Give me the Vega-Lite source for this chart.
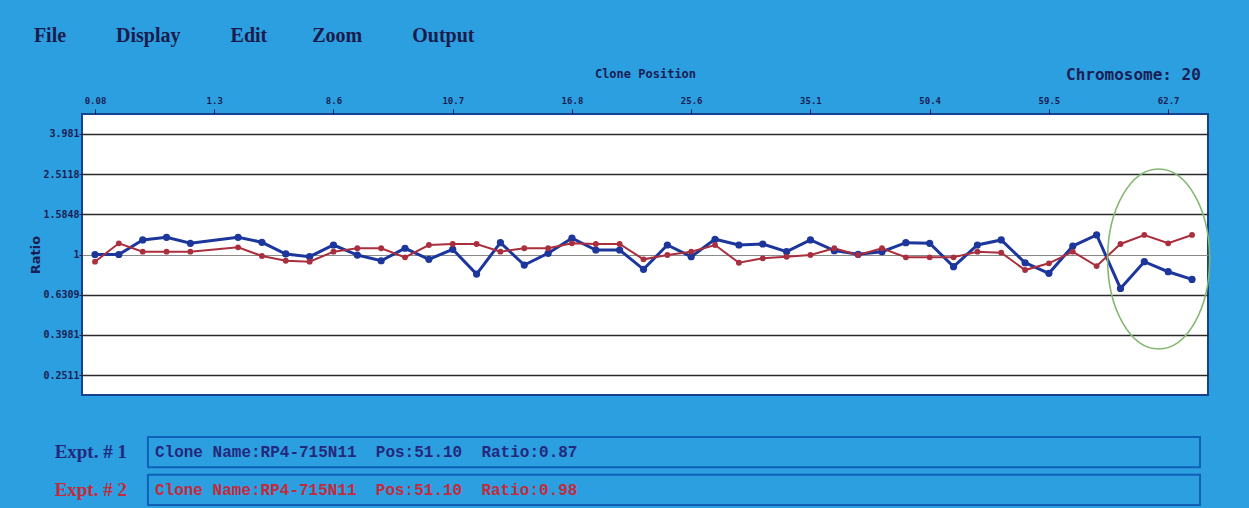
{
  "$schema": "https://vega.github.io/schema/vega-lite/v6.json",
  "background": "#2c9fe0",
  "padding": {"left": 28, "top": 26, "right": 41, "bottom": 3},
  "title": {
    "text": "File\u00a0\u00a0\u00a0\u00a0\u00a0\u00a0\u00a0\u00a0\u00a0\u00a0Display\u00a0\u00a0\u00a0\u00a0\u00a0\u00a0\u00a0\u00a0\u00a0\u00a0Edit\u00a0\u00a0\u00a0\u00a0\u00a0\u00a0\u00a0\u00a0\u00a0Zoom\u00a0\u00a0\u00a0\u00a0\u00a0\u00a0\u00a0\u00a0\u00a0\u00a0Output",
    "anchor": "start",
    "font": "Liberation Serif",
    "fontSize": 20,
    "fontWeight": "bold",
    "color": "#1b1b4d",
    "offset": 20,
    "dx": 5
  },
  "spacing": 40,
  "resolve": {"scale": {"color": "independent"}},
  "config": {"view": {"stroke": null}},
  "datasets": {
    "clones": [
      {"i":0,"series":"Expt. # 1","ratio":1.000},{"i":1,"series":"Expt. # 1","ratio":1.000},{"i":2,"series":"Expt. # 1","ratio":1.181},{"i":3,"series":"Expt. # 1","ratio":1.218},{"i":4,"series":"Expt. # 1","ratio":1.137},{"i":6,"series":"Expt. # 1","ratio":1.218},{"i":7,"series":"Expt. # 1","ratio":1.150},{"i":8,"series":"Expt. # 1","ratio":1.006},{"i":9,"series":"Expt. # 1","ratio":0.975},{"i":10,"series":"Expt. # 1","ratio":1.115},{"i":11,"series":"Expt. # 1","ratio":0.994},{"i":12,"series":"Expt. # 1","ratio":0.931},{"i":13,"series":"Expt. # 1","ratio":1.074},{"i":14,"series":"Expt. # 1","ratio":0.946},{"i":15,"series":"Expt. # 1","ratio":1.061},{"i":16,"series":"Expt. # 1","ratio":0.799},{"i":17,"series":"Expt. # 1","ratio":1.145},{"i":18,"series":"Expt. # 1","ratio":0.886},{"i":19,"series":"Expt. # 1","ratio":1.014},{"i":20,"series":"Expt. # 1","ratio":1.205},{"i":21,"series":"Expt. # 1","ratio":1.053},{"i":22,"series":"Expt. # 1","ratio":1.053},{"i":23,"series":"Expt. # 1","ratio":0.844},{"i":24,"series":"Expt. # 1","ratio":1.115},{"i":25,"series":"Expt. # 1","ratio":0.975},{"i":26,"series":"Expt. # 1","ratio":1.191},{"i":27,"series":"Expt. # 1","ratio":1.115},{"i":28,"series":"Expt. # 1","ratio":1.128},{"i":29,"series":"Expt. # 1","ratio":1.033},{"i":30,"series":"Expt. # 1","ratio":1.181},{"i":31,"series":"Expt. # 1","ratio":1.045},{"i":32,"series":"Expt. # 1","ratio":1.002},{"i":33,"series":"Expt. # 1","ratio":1.033},{"i":34,"series":"Expt. # 1","ratio":1.145},{"i":35,"series":"Expt. # 1","ratio":1.137},{"i":36,"series":"Expt. # 1","ratio":0.870},{"i":37,"series":"Expt. # 1","ratio":1.115},{"i":38,"series":"Expt. # 1","ratio":1.181},{"i":39,"series":"Expt. # 1","ratio":0.910},{"i":40,"series":"Expt. # 1","ratio":0.806},{"i":41,"series":"Expt. # 1","ratio":1.102},{"i":42,"series":"Expt. # 1","ratio":1.251},{"i":43,"series":"Expt. # 1","ratio":0.678},{"i":44,"series":"Expt. # 1","ratio":0.921},{"i":45,"series":"Expt. # 1","ratio":0.821},{"i":46,"series":"Expt. # 1","ratio":0.752},
      {"i":0,"series":"Expt. # 2","ratio":0.921},{"i":1,"series":"Expt. # 2","ratio":1.137},{"i":2,"series":"Expt. # 2","ratio":1.033},{"i":3,"series":"Expt. # 2","ratio":1.033},{"i":4,"series":"Expt. # 2","ratio":1.033},{"i":6,"series":"Expt. # 2","ratio":1.086},{"i":7,"series":"Expt. # 2","ratio":0.983},{"i":8,"series":"Expt. # 2","ratio":0.931},{"i":9,"series":"Expt. # 2","ratio":0.921},{"i":10,"series":"Expt. # 2","ratio":1.033},{"i":11,"series":"Expt. # 2","ratio":1.074},{"i":12,"series":"Expt. # 2","ratio":1.074},{"i":13,"series":"Expt. # 2","ratio":0.968},{"i":14,"series":"Expt. # 2","ratio":1.115},{"i":15,"series":"Expt. # 2","ratio":1.128},{"i":16,"series":"Expt. # 2","ratio":1.128},{"i":17,"series":"Expt. # 2","ratio":1.033},{"i":18,"series":"Expt. # 2","ratio":1.074},{"i":19,"series":"Expt. # 2","ratio":1.074},{"i":20,"series":"Expt. # 2","ratio":1.137},{"i":21,"series":"Expt. # 2","ratio":1.128},{"i":22,"series":"Expt. # 2","ratio":1.128},{"i":23,"series":"Expt. # 2","ratio":0.946},{"i":24,"series":"Expt. # 2","ratio":0.994},{"i":25,"series":"Expt. # 2","ratio":1.033},{"i":26,"series":"Expt. # 2","ratio":1.115},{"i":27,"series":"Expt. # 2","ratio":0.910},{"i":28,"series":"Expt. # 2","ratio":0.957},{"i":29,"series":"Expt. # 2","ratio":0.975},{"i":30,"series":"Expt. # 2","ratio":0.994},{"i":31,"series":"Expt. # 2","ratio":1.074},{"i":32,"series":"Expt. # 2","ratio":0.994},{"i":33,"series":"Expt. # 2","ratio":1.074},{"i":34,"series":"Expt. # 2","ratio":0.968},{"i":35,"series":"Expt. # 2","ratio":0.968},{"i":36,"series":"Expt. # 2","ratio":0.968},{"i":37,"series":"Expt. # 2","ratio":1.033},{"i":38,"series":"Expt. # 2","ratio":1.021},{"i":39,"series":"Expt. # 2","ratio":0.837},{"i":40,"series":"Expt. # 2","ratio":0.904},{"i":41,"series":"Expt. # 2","ratio":1.033},{"i":42,"series":"Expt. # 2","ratio":0.876},{"i":43,"series":"Expt. # 2","ratio":1.128},{"i":44,"series":"Expt. # 2","ratio":1.251},{"i":45,"series":"Expt. # 2","ratio":1.137},{"i":46,"series":"Expt. # 2","ratio":1.251}
    ],
    "highlight": [{"i": 44.6, "ratio": 0.95}],
    "info": [
      {"series": "Expt. # 1", "info": "Clone Name:RP4-715N11\u00a0\u00a0Pos:51.10\u00a0\u00a0Ratio:0.87"},
      {"series": "Expt. # 2", "info": "Clone Name:RP4-715N11\u00a0\u00a0Pos:51.10\u00a0\u00a0Ratio:0.98"}
    ]
  },
  "vconcat": [
    {
      "width": 1126,
      "height": 281,
      "view": {"fill": "white", "stroke": "#16428f", "strokeWidth": 2},
      "title": {"text": "Chromosome: 20", "anchor": "end", "font": "DejaVu Sans Mono", "fontSize": 16, "fontWeight": "bold", "color": "#1b1d55", "offset": -16, "dx": -12},
      "encoding": {
        "x": {
          "field": "i", "type": "quantitative",
          "scale": {"domain": [-0.545, 46.67], "nice": false, "zero": false},
          "axis": {
            "orient": "top",
            "values": [0,5,10,15,20,25,30,35,40,45],
            "labelExpr": "['0.08','1.3','8.6','10.7','16.8','25.6','35.1','50.4','59.5','62.7'][round(datum.value/5)]",
            "title": "Clone Position",
            "titleFont": "DejaVu Sans Mono", "titleFontSize": 12, "titleFontWeight": "bold", "titleColor": "#1b1d55",
            "titlePadding": 16,
            "labelFont": "DejaVu Sans Mono", "labelFontSize": 9, "labelFontWeight": "bold", "labelColor": "#1b1d55",
            "labelPadding": 4, "labelFlush": false,
            "tickSize": 5, "tickColor": "#1b1d55", "tickWidth": 1,
            "domain": false, "grid": false
          }
        },
        "y": {
          "field": "ratio", "type": "quantitative",
          "scale": {"type": "log", "domain": [0.2, 5], "nice": false},
          "axis": {
            "values": [0.2511, 0.3981, 0.6309, 1, 1.5848, 2.5118, 3.981],
            "labelExpr": "'' + datum.value",
            "grid": true,
            "gridColor": {"condition": {"test": "datum.value === 1", "value": "#8a8a8a"}, "value": "#2b2b2b"},
            "gridWidth": {"condition": {"test": "datum.value === 1", "value": 1}, "value": 1.6},
            "tickSize": 3, "tickColor": "#1b1d55", "domain": false,
            "labelFont": "DejaVu Sans Mono", "labelFontSize": 10, "labelFontWeight": "bold", "labelColor": "#1b1d55",
            "labelPadding": 0,
            "title": "Ratio", "titleFont": "DejaVu Sans", "titleFontSize": 13, "titleFontWeight": "bold", "titleColor": "#1b1d55",
            "titlePadding": 0
          }
        }
      },
      "layer": [
        {
          "data": {"name": "clones"},
          "mark": {"type": "line"},
          "encoding": {
            "color": {"field": "series", "type": "nominal", "scale": {"domain": ["Expt. # 1", "Expt. # 2"], "range": ["#1c369c", "#aa2f3e"]}, "legend": null},
            "strokeWidth": {"field": "series", "type": "nominal", "scale": {"domain": ["Expt. # 1", "Expt. # 2"], "range": [3, 2]}, "legend": null}
          }
        },
        {
          "data": {"name": "clones"},
          "mark": {"type": "point", "filled": true, "opacity": 1},
          "encoding": {
            "color": {"field": "series", "type": "nominal", "legend": null},
            "size": {"field": "series", "type": "nominal", "scale": {"domain": ["Expt. # 1", "Expt. # 2"], "range": [52, 34]}, "legend": null}
          }
        },
        {
          "data": {"name": "highlight"},
          "mark": {"type": "point", "filled": false, "shape": "M -0.567 0 A 0.567 1 0 1 0 0.567 0 A 0.567 1 0 1 0 -0.567 0 Z", "size": 32400, "stroke": "#84b872", "strokeWidth": 1.6, "opacity": 1},
          "encoding": {}
        }
      ]
    },
    {
      "width": 1118,
      "height": 68,
      "data": {"name": "info"},
      "encoding": {
        "y": {"field": "series", "type": "nominal", "axis": null, "scale": {"paddingInner": 0.2, "paddingOuter": 0}}
      },
      "layer": [
        {
          "mark": {"type": "rect", "fill": "#2c9fe0", "stroke": "#1160b8", "strokeWidth": 2},
          "encoding": {
            "x": {"datum": 0, "type": "quantitative", "scale": {"domain": [-0.0627, 1], "nice": false, "zero": false}, "axis": null},
            "x2": {"datum": 1}
          }
        },
        {
          "mark": {"type": "text", "align": "left", "dx": 7, "font": "Liberation Mono", "fontSize": 16, "fontWeight": "bold"},
          "encoding": {
            "x": {"datum": 0, "type": "quantitative"},
            "text": {"field": "info"},
            "color": {"field": "series", "type": "nominal", "scale": {"domain": ["Expt. # 1", "Expt. # 2"], "range": ["#24287c", "#c42a3c"]}, "legend": null}
          }
        },
        {
          "mark": {"type": "text", "align": "right", "dx": -21, "font": "Liberation Serif", "fontSize": 19, "fontWeight": "bold"},
          "encoding": {
            "x": {"datum": 0, "type": "quantitative"},
            "text": {"field": "series"},
            "color": {"field": "series", "type": "nominal", "legend": null}
          }
        }
      ]
    }
  ]
}
